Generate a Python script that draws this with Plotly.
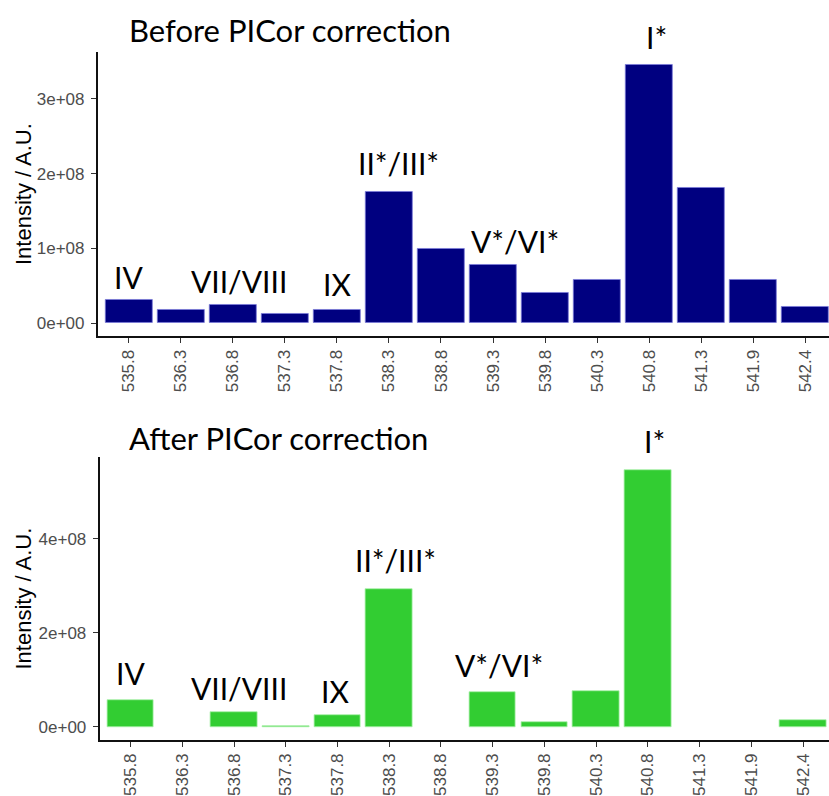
import plotly.graph_objects as go

# ---------------- data ----------------
mz = ["535.8", "536.3", "536.8", "537.3", "537.8", "538.3", "538.8",
      "539.3", "539.8", "540.3", "540.8", "541.3", "541.9", "542.4"]
before = [3.1e7, 1.8e7, 2.5e7, 1.2e7, 1.8e7, 1.76e8, 0.99e8,
          0.785e8, 0.41e8, 0.58e8, 3.457e8, 1.81e8, 0.576e8, 0.217e8]
after = [0.56e8, 0.0, 0.31e8, 1.5e6, 0.25e8, 2.93e8, 0.0,
         0.75e8, 0.11e8, 0.76e8, 5.46e8, 0.0, 0.0, 0.14e8]

top_ticks = [0, 1e8, 2e8, 3e8]
top_ticklabels = ["0e+00", "1e+08", "2e+08", "3e+08"]
bot_ticks = [0, 2e8, 4e8]
bot_ticklabels = ["0e+00", "2e+08", "4e+08"]

# peak labels: (text, category position, baseline value)
top_labels = [("IV", 0.0, 0.456e8), ("VII/VIII", 2.11, 0.41e8), ("IX", 4.0, 0.367e8),
              ("II*/III*", 5.19, 1.985e8), ("V*/VI*", 7.43, 0.944e8), ("I*", 10.14, 3.67e8)]
bot_labels = [("IV", 0.0, 0.884e8), ("VII/VIII", 2.09, 0.58e8), ("IX", 3.96, 0.51e8),
              ("II*/III*", 5.12, 3.30e8), ("V*/VI*", 7.12, 1.07e8), ("I*", 10.13, 5.82e8)]

titles = ["Before PICor correction", "After PICor correction"]
ytitle = "Intensity / A.U."

# ---------------- layout geometry ----------------
W, H = 829, 796
def px_x(p): return p / W
def px_y(p): return 1 - p / H

top_dom_y = [px_y(337), px_y(52)]
bot_dom_y = [px_y(741.7), px_y(458.3)]
top_dom_x = [px_x(97.7), 1.0]
bot_dom_x = [px_x(99.5), 1.0]

top_range = [-0.05 * max(before), 1.05 * max(before)]
bot_range = [-0.05 * max(after), 1.05 * max(after)]

TICKFONT = dict(family="Liberation Sans, Arial", size=17, color="#4D4D4D")
LABFONT = dict(family="Lato", size=30, color="black")
TITLEFONT = dict(family="Lato", size=31, color="black")

def line_widths(vals):
    return [0 if v == 0 else 0.8 for v in vals]

fig = go.Figure()
fig.add_trace(go.Bar(x=mz, y=before, width=0.9, xaxis="x", yaxis="y",
                     marker=dict(color="#000080",
                                 line=dict(color="#7a7ad8", width=line_widths(before))),
                     showlegend=False))
fig.add_trace(go.Bar(x=mz, y=after, width=0.9, xaxis="x2", yaxis="y2",
                     marker=dict(color="#32CD32",
                                 line=dict(color="#a8f0a8", width=line_widths(after))),
                     showlegend=False))

axis_common = dict(showline=True, linecolor="#111111", linewidth=1.6, ticks="outside",
                   ticklen=5, tickwidth=1.4, tickcolor="#333333", showgrid=False,
                   zeroline=False, tickfont=TICKFONT)

fig.update_layout(
    width=W, height=H, margin=dict(l=0, r=0, t=0, b=0),
    paper_bgcolor="white", plot_bgcolor="white", bargap=0,
    xaxis=dict(domain=top_dom_x, anchor="y", type="category", range=[-0.6, 13.46],
               tickangle=-90, **axis_common),
    yaxis=dict(domain=top_dom_y, anchor="x", range=top_range,
               tickvals=top_ticks, ticktext=top_ticklabels, ticklabelstandoff=3, **axis_common),
    xaxis2=dict(domain=bot_dom_x, anchor="y2", type="category", range=[-0.6, 13.5],
                tickangle=-90, **axis_common),
    yaxis2=dict(domain=bot_dom_y, anchor="x2", range=bot_range,
                tickvals=bot_ticks, ticktext=bot_ticklabels, ticklabelstandoff=3, **axis_common),
)

def frac(v, rng):
    return (v - rng[0]) / (rng[1] - rng[0])

ann = []
for (t, xpos, yv) in top_labels:
    ann.append(dict(text=t, x=xpos, y=frac(yv, top_range), xref="x", yref="y domain",
                    showarrow=False, xanchor="center", yanchor="bottom", yshift=-8, font=LABFONT))
for (t, xpos, yv) in bot_labels:
    ann.append(dict(text=t, x=xpos, y=frac(yv, bot_range), xref="x2", yref="y2 domain",
                    showarrow=False, xanchor="center", yanchor="bottom", yshift=-8, font=LABFONT))
# panel titles
ann.append(dict(text=titles[0], x=px_x(127), y=px_y(43), xref="paper", yref="paper",
                showarrow=False, xanchor="left", yanchor="bottom", yshift=-8, font=TITLEFONT))
ann.append(dict(text=titles[1], x=px_x(127), y=px_y(452), xref="paper", yref="paper",
                showarrow=False, xanchor="left", yanchor="bottom", yshift=-8, font=TITLEFONT))
# y-axis titles
for dom in (top_dom_y, bot_dom_y):
    ann.append(dict(text=ytitle, x=px_x(23), y=(dom[0] + dom[1]) / 2, xref="paper", yref="paper",
                    showarrow=False, xanchor="center", yanchor="middle", textangle=-90,
                    font=dict(family="Liberation Sans, Arial", size=22, color="black")))
fig.update_layout(annotations=ann)

fig.write_html("out.html")
